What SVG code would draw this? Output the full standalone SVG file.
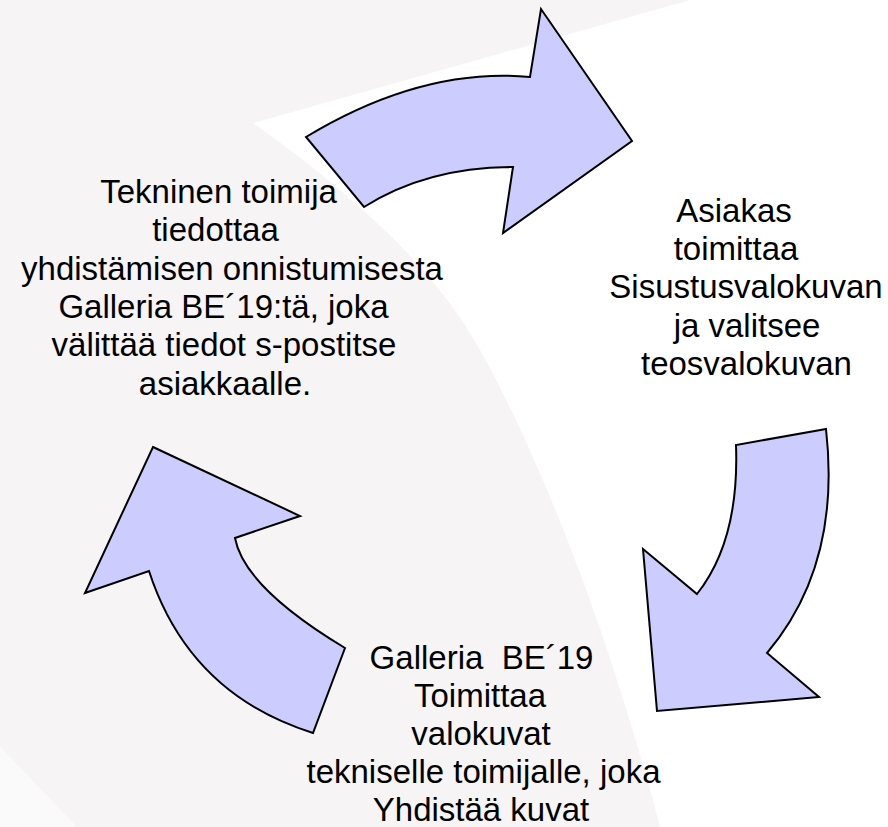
<svg xmlns="http://www.w3.org/2000/svg" width="888" height="827" viewBox="0 0 888 827">
  <style>
    .lbl { font-family: "Liberation Sans", Arial, sans-serif; font-size: 33px; fill: #000; text-anchor: middle; }
    .arrow { fill: #ccccff; stroke: #000; stroke-width: 2; stroke-linejoin: miter; }
  </style>
  <g id="background">
    <rect x="0" y="0" width="888" height="827" fill="#ffffff"/>
    <path d="M0,0 L690,0 Q470,62 253,123 C340,185 430,260 480,350 C530,440 600,600 660,827 L77,827 L0,747 Z" fill="#f6f4f4"/>
    <path d="M0,747 L77,827 L0,827 Z" fill="#fbfafa"/>
  </g>
  <g id="connectors">
    <path id="arrow-top" class="arrow" d="M306,137 Q422,67 530,77 L541,9 L632,141 L503,233 L513,167 Q427.5,167 364,207 Z"/>
    <path id="arrow-right" class="arrow" d="M826,429 L736,445 Q739.5,540.5 697,594 L643,549 L657,711 L819,697 L767,653 Q841.5,565 826,429 Z"/>
    <path id="arrow-left" class="arrow" d="M153,447 L300,516 L235,538 Q244,587 345,648 L313,733 Q189,694 149,571 L85,593 Z"/>
  </g>
  <g id="node-tekninen">
    <text class="lbl" x="218.5" y="203">Tekninen toimija</text>
    <text class="lbl" x="215.5" y="241">tiedottaa</text>
    <text class="lbl" x="232" y="280">yhdistämisen onnistumisesta</text>
    <text class="lbl" x="223.5" y="318">Galleria BE´19:tä, joka</text>
    <text class="lbl" x="224" y="356">välittää tiedot s-postitse</text>
    <text class="lbl" x="225" y="395">asiakkaalle.</text>
  </g>
  <g id="node-asiakas">
    <text class="lbl" x="734" y="221.5">Asiakas</text>
    <text class="lbl" x="736" y="260">toimittaa</text>
    <text class="lbl" x="746" y="298">Sisustusvalokuvan</text>
    <text class="lbl" x="747" y="336.5">ja valitsee</text>
    <text class="lbl" x="746.5" y="375">teosvalokuvan</text>
  </g>
  <g id="node-galleria">
    <text class="lbl" x="481.5" y="669" xml:space="preserve">Galleria  BE´19</text>
    <text class="lbl" x="480" y="707">Toimittaa</text>
    <text class="lbl" x="481" y="745">valokuvat</text>
    <text class="lbl" x="483.5" y="783">tekniselle toimijalle, joka</text>
    <text class="lbl" x="481" y="821">Yhdistää kuvat</text>
  </g>
</svg>
